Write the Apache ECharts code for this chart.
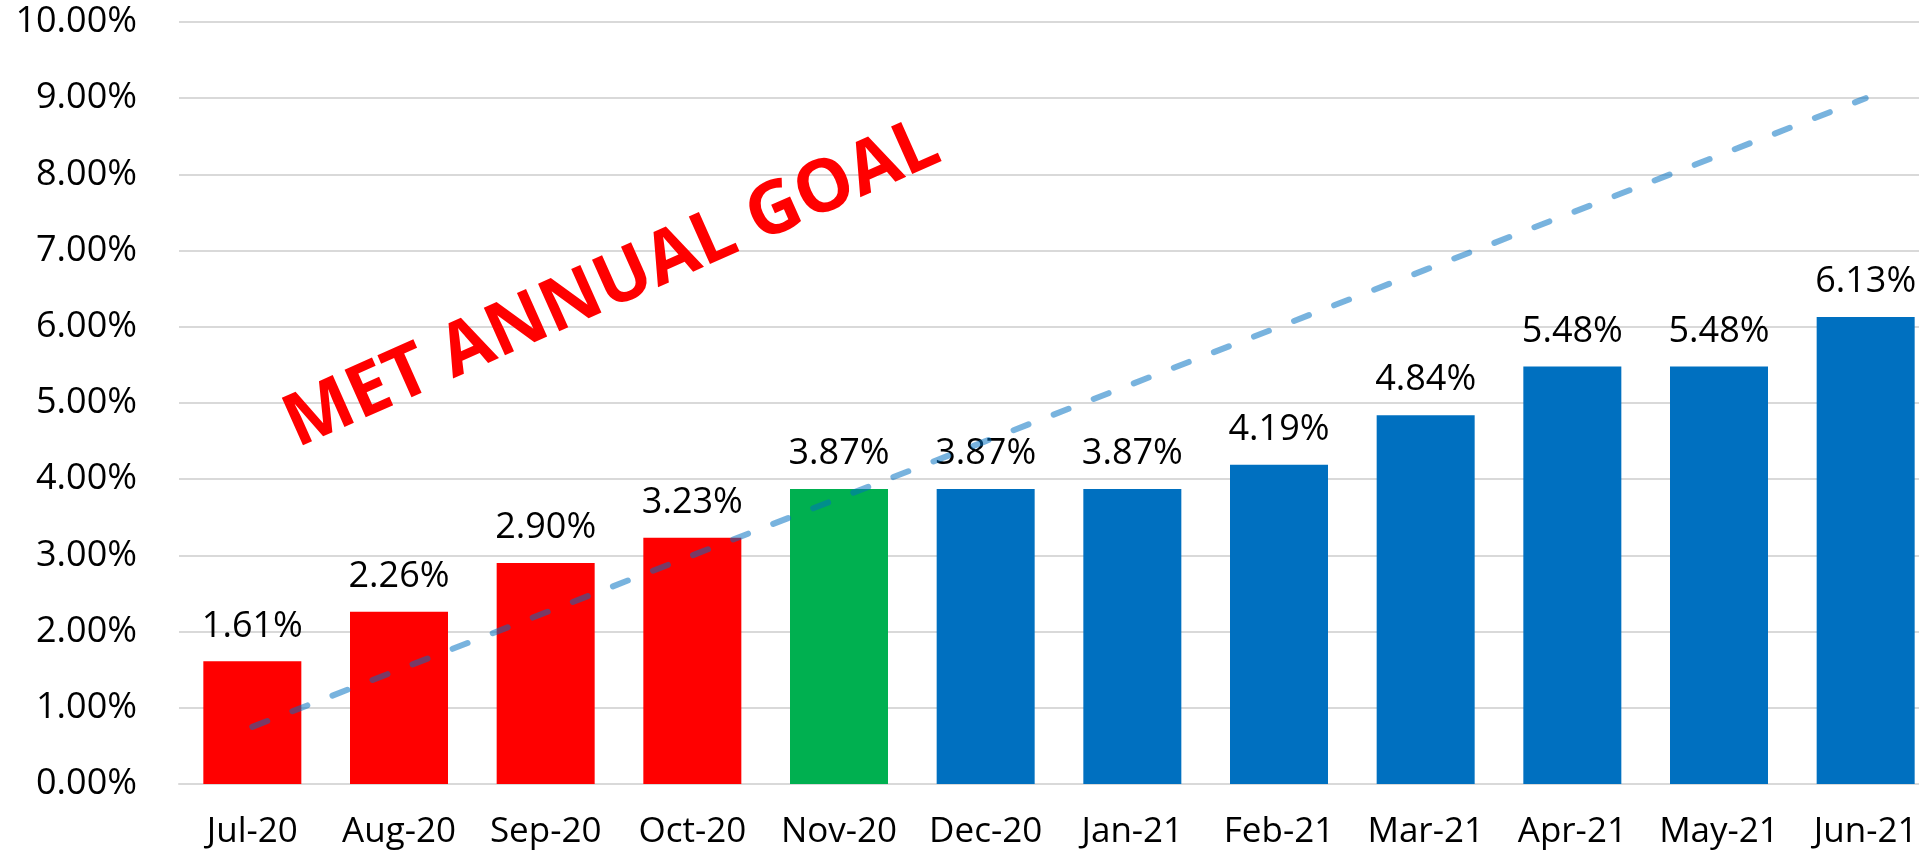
<!DOCTYPE html>
<html>
<head>
<meta charset="utf-8">
<title>Monthly rate vs. annual goal</title>
<script src="https://cdn.jsdelivr.net/npm/echarts@6/dist/echarts.min.js"></script>
<style>
  html, body { margin: 0; padding: 0; background: #ffffff; overflow: hidden; }
  /* the last category runs a little past the right edge of the page */
  #chart { width: 1939px; height: 853px; }
</style>
</head>
<body>
<div id="chart"></div>
<script>
// Months shown on the category axis
const months = ['Jul-20', 'Aug-20', 'Sep-20', 'Oct-20', 'Nov-20', 'Dec-20',
                'Jan-21', 'Feb-21', 'Mar-21', 'Apr-21', 'May-21', 'Jun-21'];

// Cumulative rate per month, in percent
const rates = [1.61, 2.26, 2.90, 3.23, 3.87, 3.87, 3.87, 4.19, 4.84, 5.48, 5.48, 6.13];

// Goal track (dashed line), in percent
const goalTrack = [0.75, 1.50, 2.25, 3.00, 3.75, 4.50, 5.25, 6.00, 6.75, 7.50, 8.25, 9.00];

// Status of each month relative to the annual goal
const status = ['below', 'below', 'below', 'below', 'met', 'after',
                'after', 'after', 'after', 'after', 'after', 'after'];

// Value-axis ticks (percent)
const yTicks = { min: 0, max: 10, step: 1 };

const annotationText = 'MET ANNUAL GOAL';

const statusColor = { below: '#FF0000', met: '#00B050', after: '#0070C0' };
const FONT = '"Open Sans", "Noto Sans", sans-serif';

const chart = echarts.init(document.getElementById('chart'), null, { renderer: 'canvas' });

chart.setOption({
  animation: false,
  backgroundColor: '#ffffff',
  grid: { left: 179, right: 0, top: 22, bottom: 69, containLabel: false },
  xAxis: {
    type: 'category',
    data: months,
    axisLine: { show: true, lineStyle: { color: '#D9D9D9', width: 2 } },
    axisTick: { show: false },
    axisLabel: { interval: 0, color: '#000', fontFamily: FONT, fontSize: 35, margin: 31 }
  },
  yAxis: {
    type: 'value',
    min: yTicks.min,
    max: yTicks.max,
    interval: yTicks.step,
    axisLine: { show: false },
    axisTick: { show: false },
    splitLine: { lineStyle: { color: '#D9D9D9', width: 2 } },
    axisLabel: {
      color: '#000', fontFamily: FONT, fontSize: 36, margin: 42,
      formatter: v => v.toFixed(2) + '%'
    }
  },
  series: [
    {
      type: 'bar',
      barWidth: 98,
      data: rates.map((v, i) => ({ value: v, itemStyle: { color: statusColor[status[i]] } })),
      label: {
        show: true, position: 'top', distance: 17,
        color: '#000', fontFamily: FONT, fontSize: 36,
        formatter: p => p.value.toFixed(2) + '%'
      }
    },
    {
      type: 'line',
      data: goalTrack,
      symbol: 'none',
      z: 3,
      lineStyle: { color: '#0070C0', opacity: 0.53, width: 6, type: [16, 27], cap: 'round' }
    }
  ],
  graphic: [
    {
      type: 'text',
      x: 612, y: 285,
      rotation: 24 * Math.PI / 180,
      style: {
        text: annotationText,
        fill: '#FF0000',
        font: 'bold 73px ' + FONT,
        align: 'center',
        verticalAlign: 'middle'
      },
      z: 10
    }
  ]
});
</script>
</body>
</html>
